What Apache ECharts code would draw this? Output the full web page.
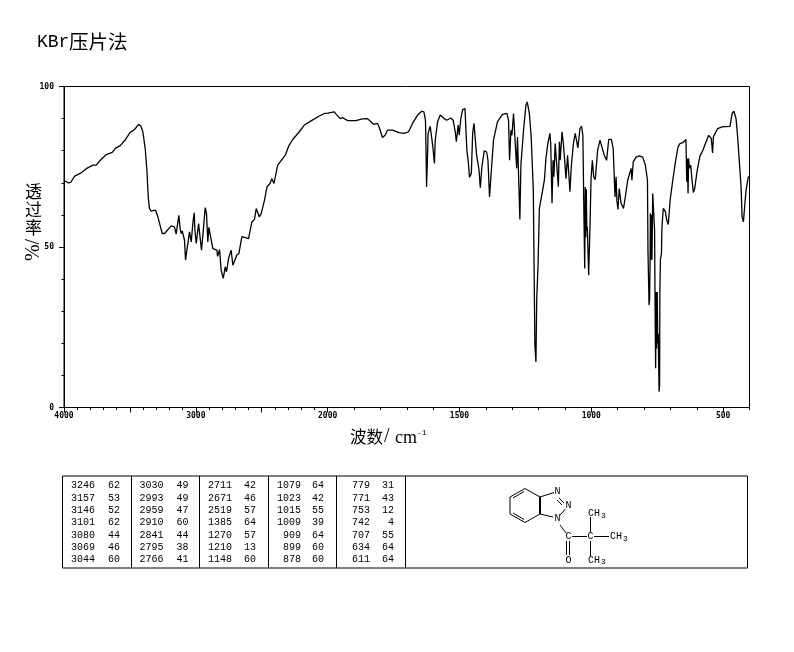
<!DOCTYPE html>
<html><head><meta charset="utf-8">
<style>html,body{margin:0;padding:0;background:#fff}#c{width:794px;height:652px}</style>
<script src="https://cdn.jsdelivr.net/npm/echarts@6/dist/echarts.min.js"></script>
</head><body><div id="c"></div>
<script>
const waveNumbers = [4000,3985,3970,3950,3919,3874,3831,3780,3755,3730,3679,3634,3609,3573,3533,3498,3465,3434,3417,3402,3384,3371,3361,3352,
3339,3306,3288,3255,3237,3187,3162,3149,3129,3119,3111,3103,3086,3078,3068,3048,3035,3022,3012,3007,2997,2979,2967,2957,2942,2929,2919,2909,2901,2886,2871,2840,2835,2820,2808,2792,2777,2767,2752,2732,2719,2704,2689,2673,2651,2600,2575,2555,2542,2529,2519,2504,2479,2460,2437,2424,2407,2379,2321,2296,2265,2215,2177,2126,2063,2025,2000,
1994,1975,1967,1953,1944,1925,1893,1868,1849,1836,1826,1811,1805,1792,1782,1773,1754,1729,1710,1693,1678,1659,1643,1635,1629,1626,1625,1622,1619,1611,1605,1601,1595,1592,1583,1573,1558,1549,1533,1524,1516,1512,1505,1501,1495,1488,1479,1476,1472,1466,1462,1455,1450,1445,1440,1435,1426,1421,1415,1406,1397,1392,1386,1380,1371,1356,1337,1320,1314,1310,1305,1301,1295,1290,1283,1280,1275,1271,1267,1263,1257,1248,1243,1235,1228,1220,1214,1210,1207,1202,1197,1189,1178,1172,1165,
1157,1154,1149,1145,1142,1137,1132,1125,1121,1118,1111,1106,1101,1096,1090,1081,1076,1068,1061,1056,1051,1043,1037,1032,1028,1025,1023,1021,1019,1017,1015,1010,1005,1001,996,991,985,976,967,960,951,942,934,924,917,910,906,903,899,894,887,878,871,862,849,846,841,830,818,805,795,787,785,781,779,777,776,774,772,770,767,763,760,758,756,754,752,750,748,746,743,741,740,738,734,732,727,719,714,708,701,691,681,671,664,653,641,638,636,633,631,628,623,618,613,608,598,588,578,565,555,550,545,540,537,521,504,474,466,459,451,445,438,432,428,423,418,413,405,403,400];
const transmittance = [70.7,70.8,70.0,70.1,72.1,73.0,74.4,75.5,75.5,76.8,78.8,79.5,80.8,81.6,83.5,85.7,86.6,88.2,87.7,85.9,80.7,73.9,65.6,62,
61.2,61.5,59.4,54.2,54.2,56.6,56.3,54.0,59.9,55.8,54.2,55.0,52.1,45.9,49.0,54.7,51.6,57.6,60.7,55.2,51.1,57.3,57.5,49.0,55.8,62.3,60.4,51.6,56.1,55.8,49.5,49.0,47.1,49.2,42.8,40.2,43.8,42.3,46.4,49.0,44.3,43.8,47.5,48.0,53.2,52.6,57.8,58.6,62.0,61.8,59.4,60.4,64.6,68.7,69.8,71.3,69.8,75.5,78.6,81.4,83.5,85.9,88,89.3,90.8,91.6,91.7,
91.8,92.1,91.3,90.0,90.3,89.4,89.4,89.9,90.0,89.0,88.2,88.5,87.4,84.1,84.8,86.4,86.4,85.6,85.4,85.9,88.5,91.1,92.3,92.1,89.5,76.0,68.7,76.0,85.4,87.6,87.6,81.2,76.0,83.3,89.0,91.1,90.0,89.5,90.2,89.5,85.9,82.8,88.0,84.8,90.0,92.8,93.1,87.4,80.2,76.0,71.7,72.9,85.4,88.5,88.0,78.6,74.0,68.5,75.0,80.0,79.6,77.0,65.6,72.9,83.3,89.0,91.3,91.6,89.5,77.0,86.4,84.8,91.6,91.6,74.5,84.3,83.8,58.6,75.5,76,86.4,94.2,95.2,91.6,84.3,67.7,19.4,14.2,33.9,44.3,62,65.6,70.8,77.6,82.2,
85.4,82.2,63.6,77,71.9,82.2,82.8,68.8,82.8,77,85.9,82.2,77,71.3,78.6,67.2,75,82.2,85.4,84.8,80.9,86.9,87.7,84.8,60,43.3,68.7,53,68,55,56.3,41.2,56.3,71.3,77,71.9,71,80.2,83.3,83.3,78.6,77,83.5,83.5,80.7,65.6,71.9,64.6,61.7,68.2,63.6,62,65.6,70.8,74.5,70.8,76.5,78,78.4,78,75.5,70.8,48.5,31.9,33.4,46,60.5,46,60,46,66.7,60,55.3,30,12.2,36,18.4,36,20,23,4.9,7,35,46,48,56.3,62,61,58.4,57,64.6,70.8,76.5,81.2,82.2,82.5,83.5,70.3,77.6,66.7,77.6,74.5,75.5,70.8,67,68.2,74,78.3,79.9,82.7,84.8,85,83.8,79.3,84.3,86.9,87.4,87.6,91.6,92.3,90,84.3,76,68.7,59.4,57.8,63,67.7,71.7,71.9,72];

const xMajorTicks = [4000,3500,3000,2500,2000,1500,1000,500];
const xMinorTicks = [3900,3800,3700,3600,3400,3300,3200,3100,2900,2800,2700,2600,2400,2300,2200,2100,1900,1800,1700,1600,1400,1300,1200,1100,900,800,700,600,400];
const xTickLabels = [4000,3000,2000,1500,1000,500];
const yMajorTicks = [0,50,100];
const yMinorTicks = [10,20,30,40,60,70,80,90];

const peakWaves = [
 [3246,3157,3146,3101,3080,3069,3044],
 [3030,2993,2959,2910,2841,2795,2766],
 [2711,2671,2519,1385,1270,1210,1148],
 [1079,1023,1015,1009,909,899,878],
 [779,771,753,742,707,634,611]];
const peakTrans = [
 [62,53,52,62,44,46,60],
 [49,49,47,60,44,38,41],
 [42,46,57,64,57,13,60],
 [64,42,55,39,64,60,60],
 [31,43,12,4,55,64,64]];

// The spectrum's wavenumber axis changes scale at 2000 cm-1
const fold = w => w >= 2000 ? (4000 - w) / 2 : 1000 + (2000 - w);
const unfold = p => p <= 1000 ? 4000 - p * 2 : 2000 - (p - 1000);

const mono = '"Liberation Mono","DejaVu Sans Mono",monospace';
const tickFont = {fontFamily:'"DejaVu Sans Mono",monospace',fontSize:8,fontWeight:'bold',color:'#000'};
const T = (text,x,y,o={}) => ({type:'text',silent:true,x,y,rotation:o.rot||0,
  style:{text,fill:'#000',font:(o.size||10)+'px '+(o.family||mono),textAlign:o.align||'left',textVerticalAlign:'middle'}});
const L = (x1,y1,x2,y2,w=1) => ({type:'line',silent:true,shape:{x1,y1,x2,y2},style:{stroke:'#000',lineWidth:w}});

const graphics = [];
// table frame
graphics.push({type:'rect',silent:true,shape:{x:62.5,y:476,width:685,height:92},style:{fill:'none',stroke:'#000',lineWidth:1}});
[131.5,199.5,268.5,336.5,405.5].forEach(x=>graphics.push(L(x,476,x,568)));
const colW=[95,163.5,232,301,370], colT=[120,188.5,256,324,394], rowY=[485.5,498,510.5,522.5,535,547,559.5];
peakWaves.forEach((col,c)=>col.forEach((v,r)=>{
  graphics.push(T(String(v),colW[c],rowY[r],{align:'right'}));
  graphics.push(T(String(peakTrans[c][r]),colT[c],rowY[r],{align:'right'}));
}));
// structure
[[525,488.5,540,497,1],[540,497,540,514,2],[540,514,525,522.5,1],[525,522.5,510,514,1],[510,514,510,497,1],[510,497,525,488.5,1],
 [524,491.5,513,498,1],[513,513,524,519.5,1],
 [540,497,554,492.5,1],[559,498,564,503,1],[557,500,562,505,1],[565.5,509,560,515,1],[540,514,553,517,1],
 [560,525,566,533,1],[566.5,541,566.5,555,1],[569.5,541,569.5,555,1],[572,536.5,587,536.5,1],
 [590.5,532,590.5,517,1],[594,536.5,609,536.5,1],[590.5,541,590.5,556,1]
].forEach(a=>graphics.push(L(a[0],a[1],a[2],a[3],a[4])));
[['N',557.5,491],['N',568.5,505],['N',557.5,518.5],['C',568.5,536.5],['O',568.5,560],['C',590.5,536.5]].forEach(a=>graphics.push(T(a[0],a[1],a[2],{align:'center',size:10})));
[[588,513.5],[610,536.5],[588,560]].forEach(a=>{graphics.push(T('CH',a[0],a[1],{size:10}));graphics.push(T('3',a[0]+13,a[1]+2,{size:8}));});
// axis titles
const cjk='"Noto Sans CJK SC"';
[['透',192],['过',210],['率',228]].forEach(a=>graphics.push(T(a[0],33.5,a[1],{size:17,family:cjk,align:'center'})));
graphics.push(T('%/',34,250,{size:20,family:'"Liberation Serif"',align:'center',rot:Math.PI/2}));
graphics.push(T('波数',350,437,{size:16.5,family:cjk}));
graphics.push(T('/',384,437,{size:20,family:'"Liberation Serif"'}));
graphics.push(T('cm',395,438,{size:18,family:'"Liberation Serif"'}));
graphics.push(T('-1',417,433,{size:8,family:mono}));
graphics.push(T('KBr',37,42,{size:18,family:mono}));
graphics.push(T('压片法',69,42,{size:19.5,family:cjk}));

const xBase = {type:'value',min:0,max:2600,position:'bottom',splitLine:{show:false},axisLine:{lineStyle:{color:'#000',width:1}}};
const yBase = {type:'value',min:0,max:100,position:'left',splitLine:{show:false},axisLine:{lineStyle:{color:'#000',width:1}}};

const chart = echarts.init(document.getElementById('c'),null,{renderer:'canvas'});
chart.setOption({
  animation:false,backgroundColor:'#fff',
  grid:{left:64,right:44.5,top:86.5,bottom:244.5,show:true,borderColor:'#000',borderWidth:1,backgroundColor:'transparent'},
  graphic:graphics,
  xAxis:[
    {...xBase,
     axisTick:{show:true,length:5,inside:false,customValues:xMajorTicks.map(fold),lineStyle:{color:'#000'}},
     axisLabel:{show:true,margin:4,customValues:xTickLabels.map(fold),formatter:p=>String(Math.round(unfold(p))),...tickFont}},
    {...xBase,
     axisTick:{show:true,length:2.5,customValues:xMinorTicks.map(fold),lineStyle:{color:'#000'}},
     axisLabel:{show:false}}
  ],
  yAxis:[
    {...yBase,
     axisTick:{show:true,length:5,customValues:yMajorTicks,lineStyle:{color:'#000'}},
     axisLabel:{show:true,margin:10,customValues:yMajorTicks,...tickFont}},
    {...yBase,
     axisTick:{show:true,length:2.5,customValues:yMinorTicks,lineStyle:{color:'#000'}},
     axisLabel:{show:false}}
  ],
  series:[{type:'line',xAxisIndex:0,yAxisIndex:0,showSymbol:false,symbol:'none',smooth:false,silent:true,
    clip:true,lineStyle:{color:'#000',width:1.3},
    data:waveNumbers.map((w,i)=>[fold(w),transmittance[i]])}]
});
</script></body></html>
